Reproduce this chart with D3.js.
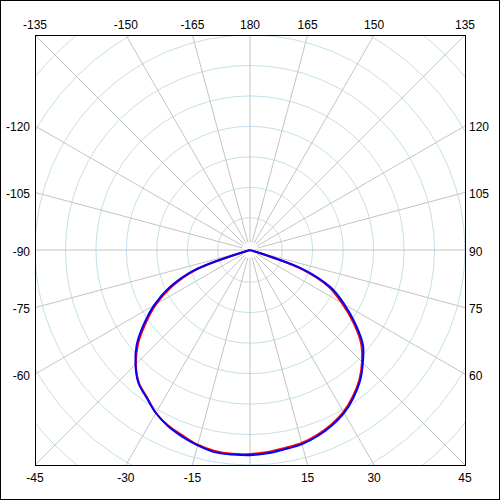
<!DOCTYPE html>
<html><head><meta charset="utf-8">
<script src="https://cdn.jsdelivr.net/npm/d3@7/dist/d3.min.js"></script>
<style>html,body{margin:0;padding:0;background:#fff;} svg{display:block;}</style>
</head><body>
<svg id="chart" width="500" height="500"></svg>
<script>
// Angle samples (degrees, 0 = bottom, 90 = right, 180 = top)
const angles = [-180,-175,-170,-165,-160,-155,-150,-145,-140,-135,-130,-125,-120,-115,-110,-105,-100,-95,-90,-85,-80,
  -75,-70,-65,-60,-55,-50,-45,-40,-35,-30,-25,-20,-15,-10,-5,0,5,10,15,20,25,30,35,40,45,50,55,60,65,70,75,
  80,85,90,95,100,105,110,115,120,125,130,135,140,145,150,155,160,165,170,175,180];
// Gain in dB (values at or below the floor sit at the centre)
const redGain = [-40,-40,-40,-40,-40,-40,-40,-40,-40,-40,-40,-40,-40,-40,-40,-40,-40,-40,-40,-40,-40,
  -40,-26.1,-21.2,-17.5,-14.4,-11.3,-8.8,-6.9,-5.8,-4.4,-3.5,-2.9,-2.2,-1.8,-1.7,-1.8,-2.0,-2.3,-2.5,-3.0,-3.7,-4.6,-5.9,-7.4,-9.3,-11.5,-14.6,-17.9,-21.1,-26.6,-40,
  -40,-40,-40,-40,-40,-40,-40,-40,-40,-40,-40,-40,-40,-40,-40,-40,-40,-40,-40,-40,-40];
const blueGain = [-40,-40,-40,-40,-40,-40,-40,-40,-40,-40,-40,-40,-40,-40,-40,-40,-40,-40,-40,-40,-40,
  -40,-25.5,-20.7,-17.1,-14.0,-11.0,-8.7,-6.8,-5.7,-4.4,-3.4,-2.7,-2.1,-1.6,-1.6,-1.6,-1.8,-2.1,-2.3,-2.8,-3.5,-4.4,-5.7,-7.2,-9.1,-11.1,-14.2,-17.4,-20.6,-26.1,-40,
  -40,-40,-40,-40,-40,-40,-40,-40,-40,-40,-40,-40,-40,-40,-40,-40,-40,-40,-40,-40,-40];
// Grid
const ringValues = [-30,-25,-20,-15,-10,-5,0,5,10];
const spokeAngles = [-165,-150,-135,-120,-105,-90,-75,-60,-45,-30,-15,0,15,30,45,60,75,90,105,120,135,150,165,180];
const labelAngles = [-165,-150,-135,-120,-105,-90,-75,-60,-45,-30,-15,15,30,45,60,75,90,105,120,135,150,165,180];

const svg = d3.select("#chart");
const W = 500, H = 500;
const box = {x0: 35, y0: 35, x1: 465, y1: 465};
const cx = 250, cy = 250, R = 215;

const rScale = d3.scaleLinear().domain([-35.3, 0]).range([0, R]);
const aScale = d3.scaleLinear().domain([-180, 180]).range([2 * Math.PI, 0]);
const rr = v => Math.max(0, rScale(v));

svg.append("rect").attr("x", 0).attr("y", 0).attr("width", W).attr("height", H).attr("fill", "#fff");

svg.append("clipPath").attr("id", "plotclipg")
  .append("rect").attr("x", box.x0 - cx).attr("y", box.y0 - cy)
  .attr("width", box.x1 - box.x0).attr("height", box.y1 - box.y0);

const g = svg.append("g").attr("transform", `translate(${cx},${cy})`);
const grid = g.append("g").attr("clip-path", "url(#plotclipg)");

grid.selectAll("circle.ring").data(ringValues).join("circle")
  .attr("class", "ring").attr("cx", 0).attr("cy", 0)
  .attr("r", d => rScale(d))
  .attr("fill", "none").attr("stroke", "#c4e0ea").attr("stroke-width", 1);

function dir(a) { const t = aScale(a); return [Math.sin(t), -Math.cos(t)]; }

grid.selectAll("line.spoke").data(spokeAngles).join("line")
  .attr("class", "spoke")
  .attr("x1", d => dir(d)[0] * (Math.abs(d) === 90 ? 0 : 8))
  .attr("y1", d => dir(d)[1] * (Math.abs(d) === 90 ? 0 : 8))
  .attr("x2", d => dir(d)[0] * 400)
  .attr("y2", d => dir(d)[1] * 400)
  .attr("stroke", "#c4c4c4").attr("stroke-width", 1);

const line = d3.lineRadial()
  .angle((d, i) => aScale(angles[i]))
  .radius(d => rr(d))
  .curve(d3.curveCatmullRom.alpha(0.5));

g.append("path").datum(redGain).attr("d", line)
  .attr("fill", "none").attr("stroke", "#ff0000").attr("stroke-width", 2).attr("stroke-linejoin", "round");
g.append("path").datum(blueGain).attr("d", line)
  .attr("fill", "none").attr("stroke", "#0000ff").attr("stroke-width", 2).attr("stroke-linejoin", "round");

// Plot box
svg.append("rect").attr("x", box.x0 + 0.5).attr("y", box.y0 + 0.5)
  .attr("width", box.x1 - box.x0).attr("height", box.y1 - box.y0)
  .attr("fill", "none").attr("stroke", "#000").attr("stroke-width", 1);
// Outer frame
svg.append("rect").attr("x", 0.5).attr("y", 0.5).attr("width", W - 1).attr("height", H - 1)
  .attr("fill", "none").attr("stroke", "#000").attr("stroke-width", 1);

// Edge labels
const labels = svg.append("g")
  .attr("font-family", "'Liberation Sans', Arial, sans-serif")
  .attr("font-size", 12).attr("fill", "#000");
labelAngles.forEach(a => {
  const [dx, dy] = dir(a);
  const t = R / Math.max(Math.abs(dx), Math.abs(dy));
  const px = cx + dx * t, py = cy + dy * t;
  let x, y, anchor;
  if (Math.abs(dy) >= Math.abs(dx) - 1e-9) {
    x = px; anchor = "middle";
    y = dy < 0 ? box.y0 - 6 : box.y1 + 17;
  } else if (dx < 0) {
    x = box.x0 - 5; y = py + 5.5; anchor = "end";
  } else {
    x = box.x1 + 4; y = py + 5.5; anchor = "start";
  }
  labels.append("text").attr("x", x).attr("y", y).attr("text-anchor", anchor).text(String(a));
});
</script>
</body></html>
